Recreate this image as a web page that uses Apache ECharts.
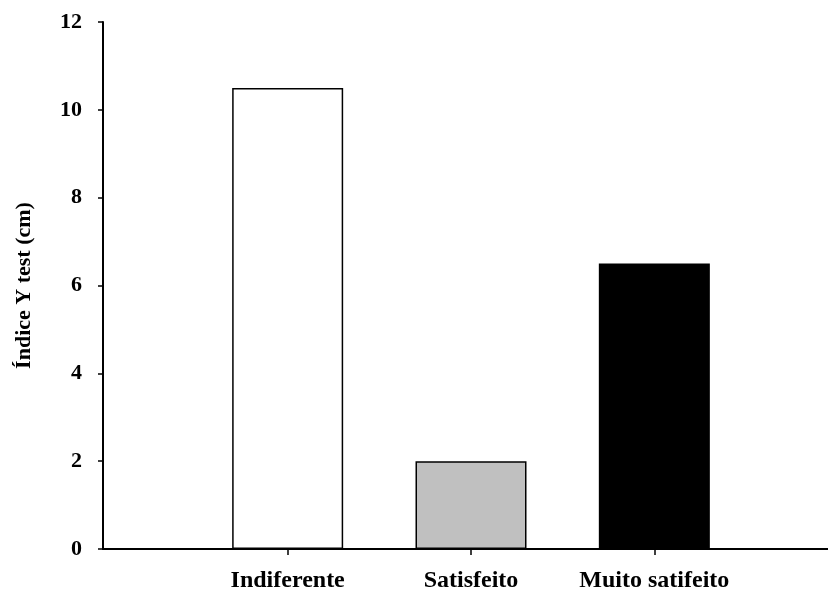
<!DOCTYPE html>
<html>
<head>
<meta charset="utf-8">
<script src="https://cdn.jsdelivr.net/npm/echarts@6/dist/echarts.min.js"></script>
<style>
  html, body { margin: 0; padding: 0; background: #fff; }
  #chart { width: 828px; height: 596px; }
</style>
</head>
<body>
<div id="chart"></div>
<script>
  // categorias e valores
  const categories = ['Indiferente', 'Satisfeito', 'Muito satifeito'];
  const values = [10.5, 2, 6.5];
  const barColors = ['#ffffff', '#c0c0c0', '#000000'];
  const yTicks = [0, 2, 4, 6, 8, 10, 12];

  const font = 'Liberation Serif';
  const chart = echarts.init(document.getElementById('chart'));

  chart.setOption({
    backgroundColor: '#fff',
    animation: false,
    grid: [
      { left: 196, right: 82, top: 22, bottom: 47 },
      // só para a linha do eixo x, que vai até a borda direita
      { left: 103, right: 0, top: 22, bottom: 47 }
    ],
    xAxis: [{
      type: 'category',
      gridIndex: 0,
      data: categories,
      axisLine: { show: false },
      axisTick: {
        show: true,
        interval: 0,
        alignWithLabel: true,
        length: 6,
        lineStyle: { color: '#000', width: 1.5 }
      },
      axisLabel: {
        interval: 0,
        color: '#000',
        fontFamily: font,
        fontWeight: 'bold',
        fontSize: 24,
        margin: 20
      }
    }, {
      type: 'value',
      gridIndex: 1,
      min: 0,
      max: 1,
      axisLine: { show: true, lineStyle: { color: '#000', width: 2 } },
      axisTick: { show: false },
      axisLabel: { show: false },
      splitLine: { show: false }
    }],
    yAxis: [{
      type: 'value',
      gridIndex: 0,
      min: yTicks[0],
      max: yTicks[yTicks.length - 1],
      interval: 2,
      offset: 93,
      name: 'Índice Y test (cm)',
      nameLocation: 'middle',
      nameGap: 68,
      nameTextStyle: {
        color: '#000',
        fontFamily: font,
        fontWeight: 'bold',
        fontSize: 22
      },
      axisLine: { show: true, lineStyle: { color: '#000', width: 2 } },
      axisTick: { show: true, length: 5, lineStyle: { color: '#000', width: 1.5 } },
      axisLabel: {
        color: '#000',
        fontFamily: font,
        fontWeight: 'bold',
        fontSize: 22,
        margin: 21
      },
      splitLine: { show: false }
    }, {
      type: 'value',
      gridIndex: 1,
      show: false
    }],
    series: [{
      type: 'bar',
      xAxisIndex: 0,
      yAxisIndex: 0,
      barWidth: 111,
      data: values.map((v, i) => ({
        value: v,
        itemStyle: { color: barColors[i] }
      })),
      itemStyle: { borderColor: '#000', borderWidth: 1.5 }
    }]
  });
</script>
</body>
</html>
